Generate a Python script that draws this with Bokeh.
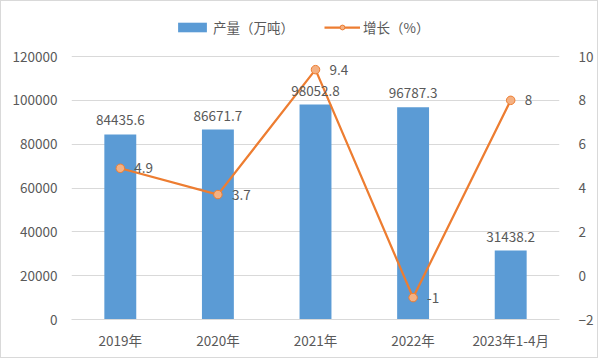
from bokeh.plotting import figure
from bokeh.models import (ColumnDataSource, FactorRange, Range1d, LinearAxis, FixedTicker,
                          NumeralTickFormatter, LabelSet, Legend, LegendItem)
from bokeh.core.properties import value
from bokeh.embed import file_html
from bokeh.resources import INLINE

categories = ["2019年", "2020年", "2021年", "2022年", "2023年1-4月"]
production = [84435.6, 86671.7, 98052.8, 96787.3, 31438.2]
growth = [4.9, 3.7, 9.4, -1, 8]
prod_labels = ["84435.6", "86671.7", "98052.8", "96787.3", "31438.2"]
growth_labels = ["4.9", "3.7", "9.4", "-1", "8"]
left_ticks = [0, 20000, 40000, 60000, 80000, 100000, 120000]
right_ticks = [-2, 0, 2, 4, 6, 8, 10]

FONT = "Noto Sans CJK SC"
TXT = "#595959"
FS = "13.5px"

W, H = 598, 358
BL, BR, BT, BB = 70, 40, 10, 40
frame_h = H - BT - BB
axis_px = 263  # pixel height of the 0..120000 axis span
scale = frame_h / axis_px
left_top = left_ticks[-1] * scale
right_top = right_ticks[0] + (right_ticks[-1] - right_ticks[0]) * scale

src = ColumnDataSource(dict(cat=categories, prod=production, growth=growth,
                            plab=prod_labels, glab=growth_labels))

p = figure(width=W, height=H, x_range=FactorRange(factors=categories),
           y_range=Range1d(0, left_top), output_backend="svg", toolbar_location=None,
           min_border_left=BL, min_border_right=BR, min_border_top=BT, min_border_bottom=BB)
p.extra_y_ranges = {"pct": Range1d(right_ticks[0], right_top)}
p.x_range.range_padding = 0
p.outline_line_color = None
p.styles = {"border": "1px solid #D9D9D9"}

bars = p.vbar(x="cat", top="prod", width=0.327, source=src, fill_color="#5B9BD5", line_color=None)
ln = p.line(x="cat", y="growth", source=src, y_range_name="pct", line_color="#ED7D31", line_width=2.25)
sc = p.scatter(x="cat", y="growth", source=src, y_range_name="pct", size=8.5,
               fill_color="#F4B183", line_color="#ED7D31", line_width=1)

# axes
p.yaxis.ticker = FixedTicker(ticks=left_ticks)
p.yaxis.formatter = NumeralTickFormatter(format="0")
ra = LinearAxis(y_range_name="pct", ticker=FixedTicker(ticks=right_ticks))
p.add_layout(ra, "right")
for ax in [p.yaxis[0], ra, p.xaxis[0]]:
    ax.major_tick_line_color = None
    ax.minor_tick_line_color = None
    ax.major_label_text_font = FONT
    ax.major_label_text_font_size = FS
    ax.major_label_text_color = TXT
p.yaxis[0].axis_line_color = None
ra.axis_line_color = None
ra.major_label_standoff = 13
p.yaxis[0].major_label_standoff = 8
p.xaxis.axis_line_color = "#D9D9D9"
p.xaxis.major_label_standoff = 4
p.xgrid.grid_line_color = None
p.ygrid.grid_line_color = "#D9D9D9"
p.ygrid.ticker = FixedTicker(ticks=left_ticks)

# labels
p.add_layout(LabelSet(x="cat", y="prod", text="plab", source=src, text_align="center",
                      text_baseline="bottom", y_offset=9, text_font=value(FONT),
                      text_font_size=value(FS), text_color=TXT))
p.add_layout(LabelSet(x="cat", y="growth", text="glab", source=src, y_range_name="pct",
                      text_align="left", text_baseline="middle", x_offset=14, text_font=value(FONT),
                      text_font_size=value(FS), text_color=TXT))

legend = Legend(items=[LegendItem(label="产量（万吨）", renderers=[bars]),
                       LegendItem(label="增长（%）", renderers=[ln, sc])],
                orientation="horizontal", location=(103, 282), padding=0, margin=0,
                spacing=30, label_standoff=3, glyph_width=36, glyph_height=12,
                label_text_font=FONT, label_text_font_size=FS, label_text_color=TXT,
                background_fill_alpha=0, border_line_color=None)
p.add_layout(legend, "center")

open("out.html", "w").write(file_html(p, INLINE))
